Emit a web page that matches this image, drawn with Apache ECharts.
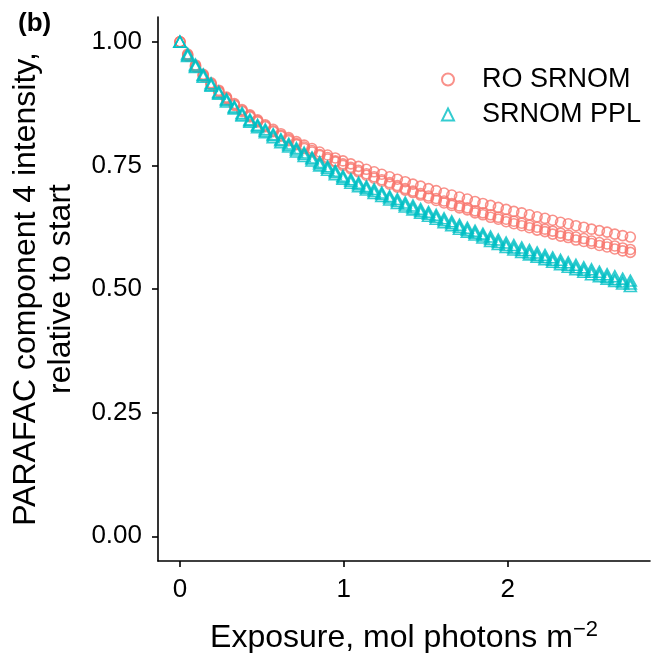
<!DOCTYPE html>
<html>
<head>
<meta charset="utf-8">
<script src="https://cdn.jsdelivr.net/npm/echarts@6/dist/echarts.min.js"></script>
<style>
html,body{margin:0;padding:0;background:#fff;}
#chart{width:652px;height:653px;}
</style>
</head>
<body>
<div id="chart"></div>
<script>
// Exposure (mol photons m^-2) at each measurement
const exposure = [0,0.047,0.095,0.142,0.19,0.237,0.284,0.332,0.379,0.427,
  0.474,0.521,0.569,0.616,0.664,0.711,0.758,0.806,0.853,0.901,
  0.948,0.995,1.043,1.09,1.138,1.185,1.232,1.28,1.327,1.375,
  1.422,1.469,1.517,1.564,1.612,1.659,1.706,1.754,1.801,1.849,
  1.896,1.943,1.991,2.038,2.086,2.133,2.18,2.228,2.275,2.323,
  2.37,2.417,2.465,2.512,2.56,2.607,2.654,2.702,2.749];

// RO SRNOM replicates
const roSrnom1 = [1.000,0.975,0.953,0.934,0.917,0.902,0.888,0.875,0.863,0.852,
  0.842,0.832,0.823,0.814,0.806,0.798,0.791,0.784,0.777,0.771,
  0.765,0.759,0.753,0.748,0.742,0.737,0.732,0.727,0.722,0.717,
  0.712,0.708,0.703,0.699,0.694,0.690,0.686,0.682,0.677,0.673,
  0.669,0.665,0.661,0.657,0.654,0.650,0.646,0.643,0.639,0.635,
  0.632,0.628,0.625,0.621,0.618,0.615,0.611,0.608,0.605];
const roSrnom2 = [1.000,0.973,0.951,0.932,0.915,0.900,0.886,0.873,0.861,0.850,
  0.840,0.830,0.820,0.811,0.803,0.794,0.787,0.780,0.772,0.766,
  0.759,0.753,0.746,0.740,0.733,0.727,0.721,0.715,0.709,0.703,
  0.698,0.693,0.688,0.683,0.678,0.673,0.668,0.664,0.658,0.654,
  0.650,0.645,0.641,0.637,0.633,0.629,0.625,0.621,0.617,0.613,
  0.609,0.605,0.602,0.597,0.594,0.591,0.587,0.583,0.580];
const roSrnom3 = [1.000,0.971,0.949,0.930,0.913,0.898,0.884,0.871,0.859,0.848,
  0.838,0.828,0.818,0.809,0.800,0.792,0.784,0.777,0.770,0.763,
  0.757,0.750,0.743,0.737,0.730,0.724,0.718,0.712,0.706,0.700,
  0.695,0.690,0.684,0.679,0.674,0.669,0.664,0.660,0.654,0.650,
  0.645,0.641,0.636,0.632,0.628,0.624,0.619,0.616,0.611,0.607,
  0.604,0.599,0.596,0.592,0.588,0.585,0.581,0.577,0.574];

// SRNOM PPL replicates
const srnomPpl1 = [1.000,0.976,0.954,0.934,0.916,0.899,0.884,0.869,0.856,0.843,
  0.832,0.823,0.813,0.803,0.794,0.785,0.776,0.766,0.757,0.748,
  0.739,0.729,0.722,0.715,0.708,0.702,0.695,0.688,0.682,0.675,
  0.669,0.662,0.656,0.650,0.643,0.637,0.630,0.624,0.618,0.612,
  0.606,0.600,0.594,0.589,0.584,0.579,0.574,0.569,0.564,0.559,
  0.554,0.549,0.544,0.540,0.535,0.530,0.526,0.521,0.517];
const srnomPpl2 = [1.000,0.973,0.951,0.932,0.913,0.897,0.882,0.867,0.853,0.841,
  0.830,0.820,0.811,0.801,0.791,0.782,0.773,0.764,0.754,0.745,
  0.736,0.726,0.719,0.712,0.705,0.698,0.692,0.685,0.678,0.671,
  0.665,0.658,0.652,0.646,0.639,0.633,0.626,0.620,0.614,0.608,
  0.601,0.595,0.589,0.584,0.579,0.574,0.569,0.564,0.559,0.554,
  0.549,0.544,0.539,0.535,0.530,0.525,0.520,0.515,0.511];
const srnomPpl3 = [1.000,0.971,0.949,0.929,0.911,0.895,0.879,0.865,0.851,0.838,
  0.827,0.817,0.807,0.797,0.788,0.778,0.769,0.760,0.750,0.741,
  0.732,0.723,0.715,0.708,0.701,0.694,0.688,0.681,0.674,0.667,
  0.661,0.654,0.648,0.642,0.635,0.629,0.622,0.616,0.610,0.604,
  0.597,0.591,0.585,0.580,0.575,0.570,0.565,0.560,0.555,0.550,
  0.545,0.540,0.535,0.530,0.526,0.521,0.516,0.511,0.506];

const groupNames = ['RO SRNOM', 'SRNOM PPL'];
const xTicks = [0, 1, 2];
const yTicks = [0, 0.25, 0.5, 0.75, 1];

function pairs(ys){ return ys.map((y,i)=>[exposure[i], y]); }
const roData = [].concat(pairs(roSrnom1), pairs(roSrnom2), pairs(roSrnom3));
const pplData = [].concat(pairs(srnomPpl1), pairs(srnomPpl2), pairs(srnomPpl3));

const FONT = '"Liberation Sans", Arial, Helvetica, sans-serif';
const chart = echarts.init(document.getElementById('chart'), null, {renderer:'canvas'});
chart.setOption({
  animation:false,
  backgroundColor:'#fff',
  grid:{left:158, top:17, right:2, bottom:92, containLabel:false, outerBoundsMode:'none'},
  xAxis:{
    type:'value', min:-0.134, max:2.869,
    splitLine:{show:false},
    axisLine:{show:true, onZero:false, lineStyle:{color:'#000', width:1.6}},
    axisTick:{show:true, length:6, lineStyle:{color:'#000', width:1.6}, customValues:xTicks},
    axisLabel:{customValues:xTicks, color:'#000', fontSize:26, fontFamily:FONT, margin:16},
    name:'Exposure, mol photons m{sup|\u22122}',
    nameLocation:'middle', nameGap:58,
    nameTextStyle:{color:'#000', fontSize:32, fontFamily:FONT,
      rich:{sup:{fontSize:22, fontFamily:FONT, color:'#000', verticalAlign:'top', padding:[0,0,16,0]}}}
  },
  yAxis:{
    type:'value', min:-0.05, max:1.05,
    splitLine:{show:false},
    axisLine:{show:true, onZero:false, lineStyle:{color:'#000', width:1.6}},
    axisTick:{show:true, length:6, lineStyle:{color:'#000', width:1.6}, customValues:yTicks},
    axisLabel:{customValues:yTicks, color:'#000', fontSize:26, fontFamily:FONT, margin:16,
      formatter:v=>v.toFixed(2)},
    name:'PARAFAC component 4 intensity,\nrelative to start',
    nameLocation:'middle', nameGap:79, nameRotate:90,
    nameTextStyle:{color:'#000', fontSize:32, fontFamily:FONT, lineHeight:35, align:'center'}
  },
  legend:{
    orient:'vertical', left:436, top:61, itemWidth:12, itemHeight:12, itemGap:8,
    textStyle:{fontSize:27, fontFamily:FONT, color:'#000', padding:[0,0,0,23]},
    data:groupNames
  },
  graphic:[{type:'text', left:18, top:11, style:{text:'(b)', font:'bold 26px '+FONT, fill:'#000'}}],
  series:[
    {name:groupNames[0], type:'scatter', data:roData, symbol:'circle', symbolSize:10,
     itemStyle:{color:'rgba(255,255,255,0)', borderColor:'#F8766D', borderWidth:1.6}},
    {name:groupNames[1], type:'scatter', data:pplData, symbol:'triangle', symbolSize:[12,11],
     itemStyle:{color:'rgba(255,255,255,0)', borderColor:'#00BFC4', borderWidth:1.6}}
  ]
});
</script>
</body>
</html>
